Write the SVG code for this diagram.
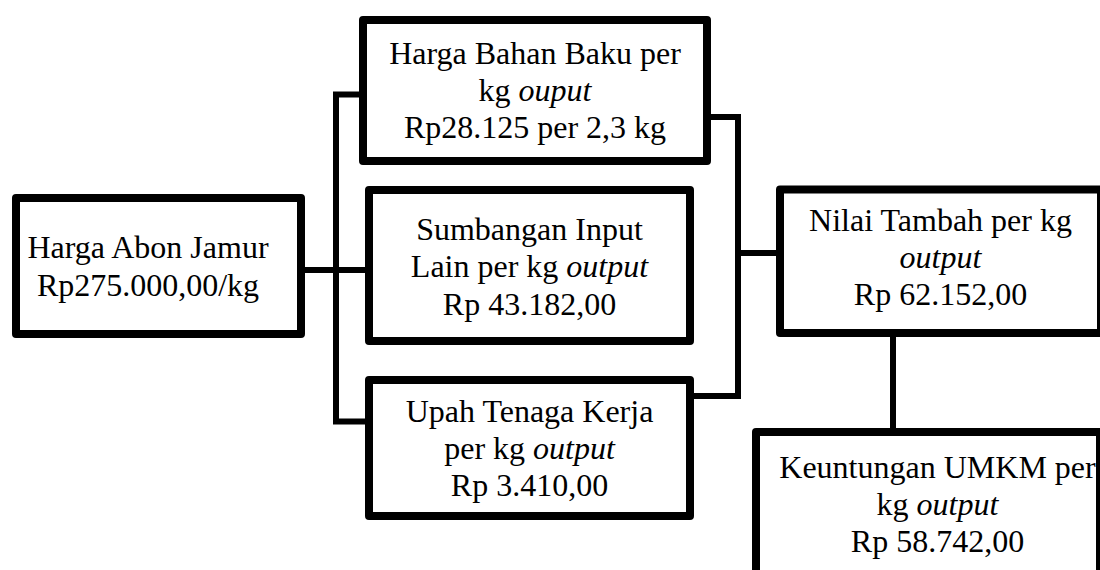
<svg xmlns="http://www.w3.org/2000/svg" width="1100" height="570" viewBox="0 0 1100 570">
  <style>
    .box { fill: #fff; stroke: #000; stroke-width: 8; stroke-linejoin: round; }
    .wire { fill: none; stroke: #000; stroke-width: 6; stroke-linecap: square; stroke-linejoin: miter; }
    .lbl { font-family: 'Liberation Serif', serif; font-size: 32px; fill: #000; text-anchor: middle; }
    .it { font-style: italic; }
  </style>
  <rect width="1100" height="570" fill="#fff"/>

  <!-- connectors -->
  <g id="connectors">
    <line class="wire" x1="305" y1="270" x2="365" y2="270"/>
    <polyline class="wire" points="359,94.5 336,94.5 336,421.5 366,421.5"/>
    <polyline class="wire" points="711,117 738,117 738,396 693,396"/>
    <line class="wire" x1="738" y1="253" x2="777" y2="253"/>
    <line class="wire" x1="893" y1="337" x2="893" y2="428"/>
  </g>

  <!-- source price -->
  <g id="harga-abon" class="lbl" font-family="Liberation Serif">
    <rect class="box" x="16" y="198" width="285" height="136"/>
    <text x="148" y="258">Harga Abon Jamur</text>
    <text x="148" y="296">Rp275.000,00/kg</text>
  </g>

  <g id="bahan-baku" class="lbl" font-family="Liberation Serif">
    <rect class="box" x="363" y="20" width="344" height="141"/>
    <text x="535" y="64">Harga Bahan Baku per</text>
    <text x="535" y="101">kg <tspan class="it">ouput</tspan></text>
    <text x="535" y="138">Rp28.125 per 2,3 kg</text>
  </g>

  <g id="input-lain" class="lbl" font-family="Liberation Serif">
    <rect class="box" x="369" y="190" width="321" height="151"/>
    <text x="529.5" y="240">Sumbangan Input</text>
    <text x="529.5" y="277">Lain per kg <tspan class="it">output</tspan></text>
    <text x="529.5" y="315">Rp 43.182,00</text>
  </g>

  <g id="tenaga-kerja" class="lbl" font-family="Liberation Serif">
    <rect class="box" x="369" y="380" width="321" height="136"/>
    <text x="529.5" y="422">Upah Tenaga Kerja</text>
    <text x="529.5" y="459">per kg <tspan class="it">output</tspan></text>
    <text x="529.5" y="496">Rp 3.410,00</text>
  </g>

  <g id="nilai-tambah" class="lbl" font-family="Liberation Serif">
    <rect class="box" x="780" y="189.5" width="321" height="143.5"/>
    <text x="940.5" y="231">Nilai Tambah per kg</text>
    <text x="940.5" y="268" class="it">output</text>
    <text x="940.5" y="305">Rp 62.152,00</text>
  </g>

  <g id="keuntungan" class="lbl" font-family="Liberation Serif">
    <rect class="box" x="756" y="432" width="344" height="160"/>
    <text x="937.5" y="478">Keuntungan UMKM per</text>
    <text x="937.5" y="515">kg <tspan class="it">output</tspan></text>
    <text x="937.5" y="552">Rp 58.742,00</text>
  </g>
</svg>
